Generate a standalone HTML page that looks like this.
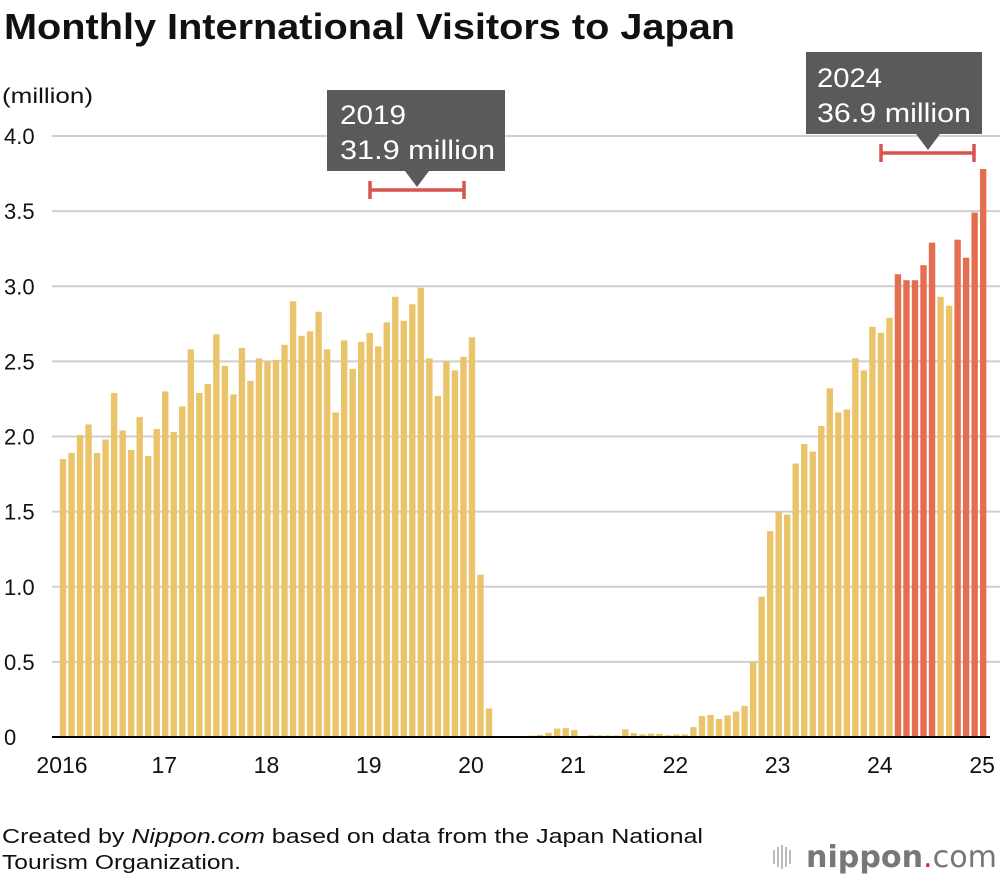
<!DOCTYPE html>
<html><head><meta charset="utf-8">
<style>
body{margin:0;background:#fff;width:1000px;height:880px;overflow:hidden;font-family:"Liberation Sans",sans-serif}
svg{display:block}
</style></head>
<body>
<svg id="chart" width="1000" height="880" viewBox="0 0 1000 880" xmlns="http://www.w3.org/2000/svg" font-family="Liberation Sans, sans-serif">
<text x="4" y="39" font-size="36" font-weight="bold" fill="#111" textLength="731" lengthAdjust="spacingAndGlyphs">Monthly International Visitors to Japan</text>
<text x="2" y="103" font-size="21" fill="#111" textLength="91" lengthAdjust="spacingAndGlyphs">(million)</text>
<g id="grid"></g>
<g id="bars"></g>
<line x1="52" y1="737" x2="990" y2="737" stroke="#000" stroke-width="2"/>
<g id="xticks"></g>
<g>
<rect x="327" y="90" width="178" height="81" fill="#5a5a5a"/>
<polygon points="405,171 429,171 417,187" fill="#5a5a5a"/>
<text x="340" y="124" font-size="27" fill="#fff" textLength="66" lengthAdjust="spacingAndGlyphs">2019</text>
<text x="340" y="159" font-size="27" fill="#fff" textLength="155" lengthAdjust="spacingAndGlyphs">31.9 million</text>
<g stroke="#d9534f" stroke-width="3.5"><line x1="370" y1="190" x2="464" y2="190"/><line x1="370" y1="181" x2="370" y2="199"/><line x1="464" y1="181" x2="464" y2="199"/></g>
</g>
<g>
<rect x="806" y="52" width="176" height="82" fill="#5a5a5a"/>
<polygon points="916,134 940,134 928,150" fill="#5a5a5a"/>
<text x="817" y="87" font-size="27" fill="#fff" textLength="65" lengthAdjust="spacingAndGlyphs">2024</text>
<text x="817" y="122" font-size="27" fill="#fff" textLength="154" lengthAdjust="spacingAndGlyphs">36.9 million</text>
<g stroke="#d9534f" stroke-width="3.5"><line x1="881" y1="153" x2="974" y2="153"/><line x1="881" y1="144" x2="881" y2="162"/><line x1="974" y1="144" x2="974" y2="162"/></g>
</g>
<text x="2" y="843" font-size="20" fill="#111" textLength="701" lengthAdjust="spacingAndGlyphs">Created by <tspan font-style="italic">Nippon.com</tspan> based on data from the Japan National</text>
<text x="2" y="869" font-size="20" fill="#111" textLength="239" lengthAdjust="spacingAndGlyphs">Tourism Organization.</text>
<g>
<g fill="#bbb"><rect x="773" y="850" width="2" height="14"/><rect x="777" y="847" width="2" height="20"/><rect x="781" y="845" width="2" height="24"/><rect x="785" y="847" width="2" height="20"/><rect x="789" y="850" width="2" height="14"/></g>
<text x="806" y="867" font-size="30" fill="#777" font-family="DejaVu Sans, sans-serif" textLength="191" lengthAdjust="spacingAndGlyphs"><tspan font-weight="bold">nippon</tspan><tspan fill="#e8202a">.</tspan><tspan>com</tspan></text>
</g>
</svg>
<script>
const values = [
1.85,1.89,2.01,2.08,1.89,1.98,2.29,2.04,1.91,2.13,1.87,2.05,
2.30,2.03,2.20,2.58,2.29,2.35,2.68,2.47,2.28,2.59,2.37,2.52,
2.50,2.51,2.61,2.90,2.67,2.70,2.83,2.58,2.16,2.64,2.45,2.63,
2.69,2.60,2.76,2.93,2.77,2.88,2.99,2.52,2.27,2.50,2.44,2.53,
2.66,1.08,0.19,0.003,0.002,0.003,0.004,0.009,0.014,0.028,0.056,0.059,
0.046,0.007,0.012,0.011,0.010,0.010,0.051,0.026,0.018,0.022,0.021,0.012,
0.017,0.016,0.066,0.139,0.147,0.120,0.144,0.169,0.207,0.499,0.934,1.37,
1.50,1.48,1.82,1.95,1.90,2.07,2.32,2.16,2.18,2.52,2.44,2.73,
2.69,2.79,3.08,3.04,3.04,3.14,3.29,2.93,2.87,3.31,3.19,3.49,
3.78];
const yTicks = [0,0.5,1.0,1.5,2.0,2.5,3.0,3.5,4.0];
const yTickLabels = ["0","0.5","1.0","1.5","2.0","2.5","3.0","3.5","4.0"];
const xTickLabels = ["2016","17","18","19","20","21","22","23","24","25"];
const redThreshold = 3.0;

const NS="http://www.w3.org/2000/svg";
const y = v => 737 - v*(601/4);
const xc = i => 63 + i*8.52;
const grid=document.getElementById('grid'), bars=document.getElementById('bars'), xt=document.getElementById('xticks');
yTicks.forEach((t,k)=>{
  if(t>0){
    const l=document.createElementNS(NS,'line');
    
    
    l.setAttribute('x1',52);l.setAttribute('x2',1000);l.setAttribute('y1',y(t));l.setAttribute('y2',y(t));
    l.setAttribute('stroke','#cfcfcf');l.setAttribute('stroke-width','2');
    grid.appendChild(l);
  }
  const tx=document.createElementNS(NS,'text');
  
  
  tx.setAttribute('x',4);tx.setAttribute('y',y(t)+8);tx.setAttribute('font-size','22');tx.setAttribute('fill','#111');
  tx.textContent=yTickLabels[k];
  grid.appendChild(tx);
});
values.forEach((v,i)=>{
  const r=document.createElementNS(NS,'rect');
  
  
  const h=v*(601/4);
  r.setAttribute('x',xc(i)-3.2);r.setAttribute('width',6.4);
  r.setAttribute('y',737-h);r.setAttribute('height',h);
  r.setAttribute('fill', v>=redThreshold ? '#e56e50' : '#e9c46a');
  bars.appendChild(r);
});
xTickLabels.forEach((lab,k)=>{
  const tx=document.createElementNS(NS,'text');
  
  
  tx.setAttribute('x',xc(k*12)-1);tx.setAttribute('y',773);tx.setAttribute('font-size','23');
  tx.setAttribute('text-anchor','middle');tx.setAttribute('fill','#111');
  tx.textContent=lab;
  xt.appendChild(tx);
});
</script>
</body></html>
